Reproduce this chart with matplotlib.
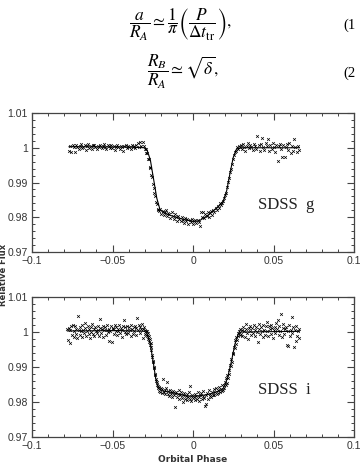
import numpy as np
import matplotlib
matplotlib.use('Agg')
import matplotlib.pyplot as plt
from matplotlib.ticker import MultipleLocator, FixedLocator

plt.rcParams['mathtext.fontset'] = 'stix'

#phase in units of 1e-4, flux as (flux - 1) in units of 1e-4
g_phase = [-770, -763, -756, -748, -741, -733, -726, -718, -711, -703, -696, -688, -681, -673, -666,
           -658, -651, -643, -636, -628, -621, -613, -606, -598, -591, -583, -576, -568, -561, -553,
           -546, -538, -531, -523, -516, -508, -501, -493, -486, -478, -471, -463, -456, -448, -441,
           -433, -426, -418, -411, -403, -396, -388, -381, -373, -366, -358, -351, -343, -336, -328,
           -321, -313,
           -306, -300, -295, -290, -285, -280, -275, -270, -265, -260, -255, -250, -245, -240, -235,
           -230, -225, -220, -215,
           -210, -203, -196, -189, -182, -175, -168, -161, -154, -147, -140, -133, -126, -119, -112,
           -105, -98, -91, -84, -77, -70, -63, -56, -49, -42, -35, -28, -21, -14, -7, 0, 7, 14, 21,
           28, 35, 42, 49, 56, 63, 70, 77, 84, 91, 98, 105, 112, 119, 126, 133, 140, 147, 154, 161,
           168, 175,
           182, 188, 194, 200, 206, 212, 218, 224, 230, 236, 242, 248, 254, 260, 266, 272, 278, 284,
           290,
           296, 303, 311, 318, 326, 333, 340, 348, 355, 362, 370, 377, 385, 392, 399, 407, 414, 421,
           429, 436, 444, 451, 458, 466, 473, 480, 488, 495, 503, 510, 517, 525, 532, 539, 547, 554,
           562, 569, 576, 584, 591, 598, 606, 613, 621, 628, 635, 643, 650, 657]
g_flux = [-9, 5, -13, 7, 2, -11, 9, 1, -4, 6, 10, -2, 3, 8, -6, 4, 12, 0, 5, -3, 7, 9, 2, -5, 6, 1,
          8, -1, 4, 10, 3, -4, 7, 5, -2, 9, 0, 6, -7, 3, 8, 1, -3, 5, 2, -8, 4, 7, -1, 6, 3, -5, 9, 2,
          5, -2, 7, 13, 1, 16, 4, 18,
          4, -5, -4, -15, -16, -31, -33, -55, -58, -79, -85, -104, -115, -131, -140, -156, -162,
          -176, -178,
          -183, -176, -190, -181, -194, -185, -179, -197, -188, -192, -201, -186, -196, -205, -192,
          -199, -210, -196, -204, -211, -199, -207, -216, -203, -212, -205, -219, -209, -214, -206,
          -220, -211, -207, -216, -208, -213, -226, -186, -199, -184, -203, -192, -197, -186, -200,
          -189, -183, -194, -178, -186, -172, -179, -168, -174, -160, -166,
          -158, -153, -146, -137, -131, -114, -98, -87, -70, -61, -46, -32, -21, -12, -10, 2, -4, 6,
          3,
          8, -5, 12, 3, -9, 6, 14, -2, 9, 1, -7, 11, 4, -4, 35, 7, -10, 10, 27, 2, -6, 13, 5, 26, -8,
          9, -3, 15, 1, -12, 7, -38, 4, 11, -5, -27, 8, -28, 2, 10, -6, 13, -15, 5, -9, 24, 3, -11, 6,
          -7]
g_model_phase = [-770, -400, -300, -285, -265, -245, -225, -205, -180, -120, -60, 0, 40, 90, 130,
                 170, 190, 210, 230, 250, 270, 300, 660]
g_model_flux = [3, 2, 0, -7, -35, -90, -145, -178, -188, -198, -206, -212, -210, -195, -180, -163,
                -152, -122, -73, -28, -4, 0, 0]

i_phase = [-780, -775, -771, -766, -761, -756, -752, -747, -742, -738, -733, -728, -724, -719, -715,
           -710, -705, -701, -696, -691, -687, -682, -677, -673, -668, -663, -659, -654, -649, -645,
           -640, -635, -631, -626, -621, -617, -612, -607, -603, -598, -593, -589, -584, -579, -575,
           -570, -565, -561, -556, -551, -547, -542, -537, -533, -528, -523, -519, -514, -509, -505,
           -500, -495, -491, -486, -481, -477, -472, -467, -463, -458, -453, -449, -444, -439, -435,
           -430, -425, -421, -416, -411, -407, -402, -397, -393, -388, -383, -379, -374, -369, -365,
           -360, -355, -351, -346, -341, -337, -332, -327, -323, -318, -313, -309, -304,
           -300, -297, -294, -291, -288, -285, -282, -279, -276, -273, -270, -267, -264, -261, -258,
           -255, -252, -249, -246, -243, -240, -237, -234, -231, -228, -225, -222, -219, -216, -213,
           -210, -205, -200, -195, -190, -186, -181, -176, -171, -166, -163, -158, -153, -148, -143,
           -138, -133, -128, -123, -118, -113, -110, -105, -100, -95, -90, -85, -80, -75, -70, -65,
           -60, -55, -50, -45, -40, -35, -30, -25, -20, -18, -15, -10, -5, 0, 5, 10, 15, 20, 25, 30,
           35, 40, 45, 50, 55, 60, 65, 70, 75, 78, 83, 88, 93, 98, 103, 108, 113, 118, 123, 128, 133,
           138, 143, 148, 153, 158, 163, 168, 173, 178, 183,
           186, 190, 194, 198, 202, 206, 210, 214, 218, 222, 226, 230, 234, 238, 242, 246, 250, 254,
           258, 262, 266, 270, 274, 278, 282, 286, 290, 294, 298,
           302, 307, 312, 317, 322, 327, 332, 337, 342, 347, 352, 357, 362, 367, 372, 377, 382, 387,
           392, 397, 402, 407, 412, 417, 422, 427, 432, 437, 442, 447, 452, 457, 462, 467, 472, 477,
           482, 487, 492, 497, 502, 507, 512, 517, 522, 527, 532, 537, 542, 547, 552, 557, 562, 567,
           572, 577, 582, 587, 592, 597, 602, 607, 612, 617, 622, 627, 632, 637, 642, 647, 652, 657,
           661]
i_flux = [8, -24, 12, -30, 5, 16, -8, 21, -14, 3, 18, -5, 10, -18, 45, 6, -9, 14, 2, -15, 19, 7, -4,
          12, 25, -11, 4, 16, -7, 9, -16, 13, 1, 22, -6, 8, -12, 15, 3, -2, 18, 6, -10, 11, 37, -3, 9,
          17, -13, 5, 14, -8, 7, 20, -1, 10, -25, 4, 16, -29, 8, 12, -6, 19, 3, 14, -9, 9, 2, 21, -4,
          11, 6, -14, 16, 34, 1, 13, -7, 18, 7, -3, 15, 5, -11, 20, 9, -5, 14, 2, 17, -8, 11, 39, 6,
          19, -2, 13, 8, 22, -16, 10, 15,
          5, -6, 4, -9, 3, -12, -4, -19, -11, -29, -20, -37, -31, -52, -43, -70, -66, -86, -83, -104,
          -101, -123, -119, -140, -133, -151, -142, -160, -154, -168,
          -158, -170, -161, -175, -164, -134, -172, -166, -178, -160, -142, -176, -169, -182, -165,
          -177, -171, -185, -168, -179, -174, -214, -170, -186, -176, -167, -190, -179, -172, -188,
          -181, -200, -175, -192, -184, -178, -195, -187, -172, -191, -153, -182, -196, -179, -188,
          -186, -177, -194, -183, -190, -172, -185, -198, -180, -175, -192, -183, -169, -188, -210,
          -205, -181, -174, -190, -167, -182, -176, -185, -170, -179, -164, -181, -172, -160, -177,
          -167, -174, -158, -170, -162, -152, -168,
          -166, -152, -160, -143, -151, -132, -145, -124, -131, -108, -120, -93, -97, -78, -85, -60,
          -64, -42, -46, -24, -33, -14, -22, -3, -12, 4, -9, 8, -5,
          6, -10, 14, 2, -15, 9, 23, -4, -20, 11, 3, 17, -8, 12, -2, 19, 5, -12, 15, 1, -29, 10, 24,
          -6, 13, 3, -14, 20, 7, -9, 16, 29, 2, -11, 18, 8, -5, 21, 11, -17, 6, 14, -3, 25, 9, 35, -8,
          17, 4, 51, -13, 12, 22, -6, 8, 15, -37, 3, -41, 19, -10, 7, 42, -4, 13, -43, 6, -25, 16,
          -12, 4, -18, 9]
i_model_phase = [-780, -450, -300, -285, -266, -246, -232, -215, -190, -120, -40, 20, 90, 160, 190,
                 215, 240, 260, 280, 300, 660]
i_model_flux = [3, 4, 2, -5, -33, -89, -132, -161, -168, -174, -183, -183, -179, -169, -160, -130,
                -81, -35, -7, 0, 2]

panels = [(g_phase, g_flux, g_model_phase, g_model_flux, 'SDSS  g'),
          (i_phase, i_flux, i_model_phase, i_model_flux, 'SDSS  i')]

fig = plt.figure(figsize=(3.63, 4.67), dpi=100)

#equations above the plots
fig.text(0.497, 1 - 24 / 467,
         r'$\dfrac{a}{R_A} \simeq \dfrac{1}{\pi}\left(\dfrac{P}{\Delta t_{\mathrm{tr}}}\right),$',
         ha='center', va='center', fontsize=12.5)
fig.text(0.503, 1 - 72 / 467, r'$\dfrac{R_B}{R_A} \simeq \sqrt{\delta},$',
         ha='center', va='center', fontsize=12.5)
fig.text(343 / 363, 1 - 25 / 467, '(1', ha='left', va='center', fontsize=10.5,
         family='Liberation Serif')
fig.text(343 / 363, 1 - 73 / 467, '(2', ha='left', va='center', fontsize=10.5,
         family='Liberation Serif')

boxes = [[0.0882, 0.4604, 0.887, 0.2976], [0.0882, 0.0642, 0.887, 0.2998]]
for box, (ph, fl, mph, mfl, name) in zip(boxes, panels):
    ax = fig.add_axes(box)
    ax.plot(np.array(ph) * 1e-4, 1 + np.array(fl) * 1e-4, 'x', color='black',
            markersize=2.0, markeredgewidth=0.5)
    ax.plot(np.array(mph) * 1e-4, 1 + np.array(mfl) * 1e-4, color='black', lw=0.8)
    ax.set_xlim(-0.1, 0.1)
    ax.set_ylim(0.97, 1.01)
    ax.xaxis.set_major_locator(FixedLocator([-0.1, -0.05, 0, 0.05, 0.1]))
    ax.set_xticklabels(['\u22120.1', '\u22120.05', '0', '0.05', '0.1'])
    ax.yaxis.set_major_locator(FixedLocator([0.97, 0.98, 0.99, 1.0, 1.01]))
    ax.set_yticklabels(['0.97', '0.98', '0.99', '1', '1.01'])
    ax.xaxis.set_minor_locator(MultipleLocator(0.01))
    ax.yaxis.set_minor_locator(MultipleLocator(0.002))
    ax.tick_params(which='both', direction='in', top=True, right=True, color='#444444',
                   labelsize=7.5, labelcolor='#333333', labelfontfamily='Liberation Sans')
    ax.tick_params(which='major', length=5, width=0.8, pad=3)
    ax.tick_params(which='minor', length=2.5, width=0.7)
    for s in ax.spines.values():
        s.set_linewidth(0.9)
        s.set_color('#444444')
    ax.text(0.0405, 0.9835, name, fontsize=12, family='Liberation Serif', va='center',
            color='#222222')

fig.text(3.5 / 363, 1 - 275 / 467, 'Relative Flux', rotation=90, ha='center', va='center',
         fontsize=6, fontweight='bold', color='#333333')
fig.text(193 / 363, 1 - 460 / 467, 'Orbital Phase', ha='center', va='center',
         fontsize=6.5, fontweight='bold', color='#333333')

fig.savefig('out.png', dpi=100)
